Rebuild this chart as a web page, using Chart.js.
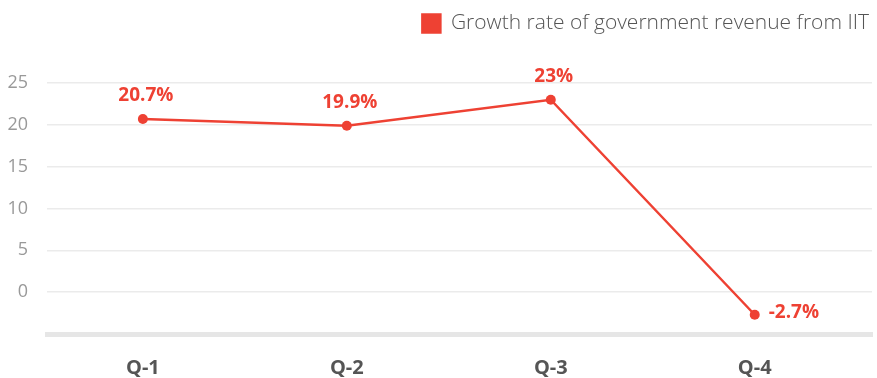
<!DOCTYPE html>
<html>
<head>
<meta charset="utf-8">
<script src="https://cdn.jsdelivr.net/npm/chart.js@4.4.1/dist/chart.umd.min.js"></script>
<style>
  html, body { margin: 0; padding: 0; background: #ffffff; }
  #wrap { width: 877px; height: 378px; position: relative; }
</style>
</head>
<body>
<div id="wrap"><canvas id="c"></canvas></div>
<script>
const categories = ['Q-1', 'Q-2', 'Q-3', 'Q-4'];
const growthRate = [20.7, 19.9, 23, -2.7];
const dataLabels = ['20.7%', '19.9%', '23%', '-2.7%'];
const seriesName = 'Growth rate of government revenue from IIT';
const yTicks = [25, 20, 15, 10, 5, 0];

const RED = '#ee4133';

const labelPlugin = {
  id: 'pointLabels',
  afterDatasetsDraw(chart) {
    const ctx = chart.ctx;
    const meta = chart.getDatasetMeta(0);
    ctx.save();
    ctx.fillStyle = RED;
    ctx.font = 'bold 19px "Open Sans"';
    ctx.textBaseline = 'middle';
    meta.data.forEach((pt, i) => {
      const v = growthRate[i];
      if (v < 0) {
        ctx.textAlign = 'left';
        ctx.fillText(dataLabels[i], pt.x + 14, pt.y - 2);
      } else {
        ctx.textAlign = 'center';
        ctx.fillText(dataLabels[i], pt.x + 3, pt.y - 23);
      }
    });
    ctx.restore();
  }
};

new Chart(document.getElementById('c'), {
  type: 'line',
  data: {
    datasets: [{
      label: seriesName,
      data: growthRate.map((v, i) => ({ x: i, y: v })),
      borderColor: RED,
      backgroundColor: RED,
      borderWidth: 2.5,
      pointRadius: 5,
      pointHoverRadius: 5,
      pointBackgroundColor: RED,
      pointBorderWidth: 0,
      tension: 0,
      clip: false
    }]
  },
  options: {
    responsive: true,
    maintainAspectRatio: false,
    animation: false,
    layout: { padding: { top: 5, right: 0, left: 0, bottom: 0 } },
    plugins: {
      legend: {
        position: 'top',
        align: 'end',
        labels: {
          boxWidth: 18,
          boxHeight: 18,
          padding: 8,
          color: '#555555',
          font: { family: '"Open Sans"', size: 21, weight: 300 }
        }
      },
      tooltip: { enabled: false }
    },
    scales: {
      x: {
        type: 'linear',
        min: -0.47,
        max: 3.575,
        grid: { display: false, drawTicks: false },
        border: { display: true, color: '#e6e6e6', width: 5 },
        afterBuildTicks: (s) => { s.ticks = categories.map((c, i) => ({ value: i })); },
        afterFit: (s) => { s.height = 44; },
        ticks: {
          padding: 22,
          color: '#555555',
          font: { family: '"Open Sans"', size: 20, weight: 'bold' },
          callback: (v) => categories[v] !== undefined ? categories[v] : ''
        }
      },
      xTop: {
        type: 'linear',
        position: 'top',
        display: true,
        grid: { display: false, drawTicks: false },
        border: { display: false },
        ticks: { display: false },
        afterFit: (s) => { s.height = 39; }
      },
      y: {
        min: -5,
        max: 25,
        grid: { color: '#ebebeb', lineWidth: 1.5, drawTicks: false },
        border: { display: false },
        afterBuildTicks: (s) => { s.ticks = [-5].concat(yTicks.slice().reverse()).map(v => ({ value: v })); },
        afterFit: (s) => { s.width = 47; },
        ticks: {
          padding: 19,
          color: '#999999',
          font: { family: '"Open Sans"', size: 18 },
          callback: (v) => yTicks.includes(v) ? String(v) : ''
        }
      }
    }
  },
  plugins: [labelPlugin]
});
</script>
</body>
</html>
